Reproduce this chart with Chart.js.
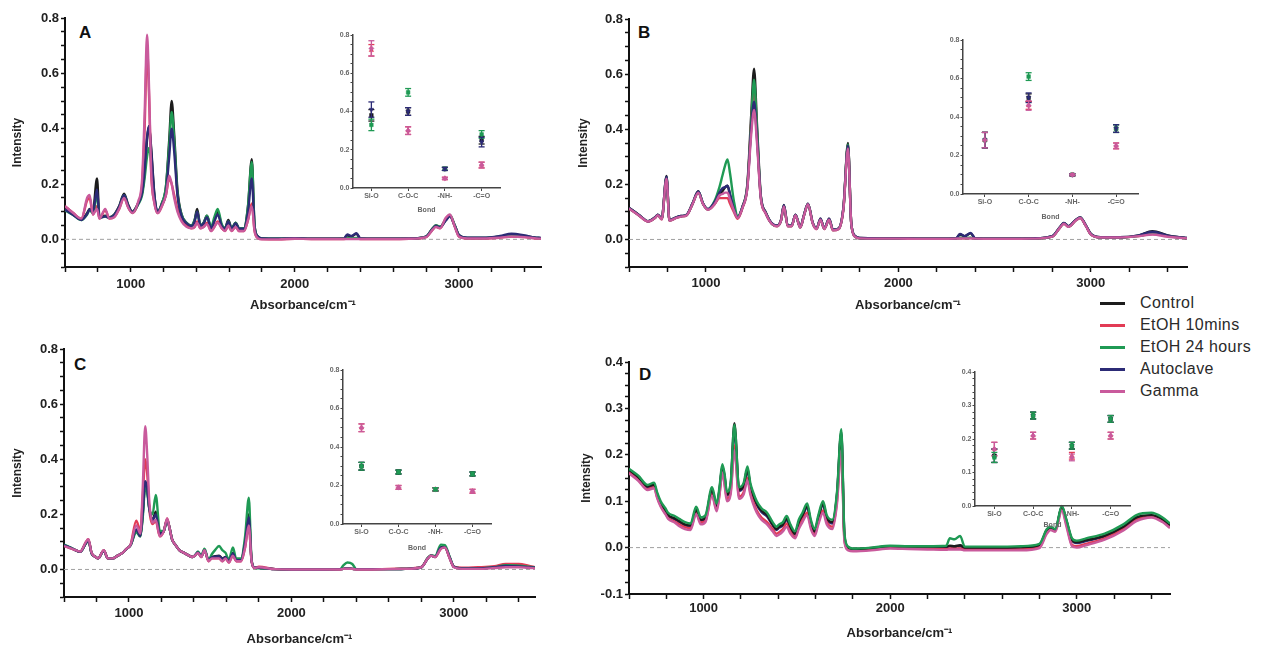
<!DOCTYPE html>
<html><head><meta charset="utf-8">
<script src="https://cdn.jsdelivr.net/npm/chart.js@4.4.0/dist/chart.umd.min.js"></script>
<style>
html,body{margin:0;padding:0;background:#fff;width:1261px;height:647px;overflow:hidden;font-family:"Liberation Sans",Arial,sans-serif;}
canvas{position:absolute;}
.letter{position:absolute;font-weight:bold;font-size:17px;line-height:17px;color:#111;}
#legend{position:absolute;left:1100px;top:292px;font-size:16px;color:#2a2a2a;letter-spacing:0.4px;}
.row{height:22px;line-height:22px;white-space:nowrap;}
.sw{display:inline-block;width:25px;height:3px;vertical-align:middle;margin-right:15px;}
</style></head><body>
<div class="letter" style="left:79px;top:24px">A</div>
<div class="letter" style="left:638px;top:24px">B</div>
<div class="letter" style="left:74px;top:356px">C</div>
<div class="letter" style="left:639px;top:366px">D</div>
<div id="legend"></div>
<script>
const FONT = '"Liberation Sans", Arial, sans-serif';
const seriesNames = ['Control','EtOH 10mins','EtOH 24 hours','Autoclave','Gamma'];
const seriesColors = ['#1c1c1c','#e23b55','#1f9a54','#2c2b76','#c95a9c'];
const markerStyles = ['rect','triangle','rect','triangle','rectRot'];
const markerRotation = [0,0,0,180,0];
// drawing order per panel (lower = drawn on top)
const orderDefault = [5,4,3,2,1];
const orderGreenTop = [3,4,1,5,2];

const xRange = [600, 3500];
const zeroLine = [0, 0];
const xTicks = [600,800,1000,1200,1400,1600,1800,2000,2200,2400,2600,2800,3000,3200,3400];
const xTickLabels = [1000,2000,3000];
const yTicks8 = [-0.1,-0.05,0,0.05,0.1,0.15,0.2,0.25,0.3,0.35,0.4,0.45,0.5,0.55,0.6,0.65,0.7,0.75,0.8];
const yLabels8 = [0,0.2,0.4,0.6,0.8];
const yTicks4 = [-0.1,-0.075,-0.05,-0.025,0,0.025,0.05,0.075,0.1,0.125,0.15,0.175,0.2,0.225,0.25,0.275,0.3,0.325,0.35,0.375,0.4];
const yLabels4 = [-0.1,0,0.1,0.2,0.3,0.4];

const bondLabels = ['Si-O','C-O-C','-NH-','-C=O'];
const bondTicks = [0,1,2,3];
const insetTicks8 = [0,0.05,0.1,0.15,0.2,0.25,0.3,0.35,0.4,0.45,0.5,0.55,0.6,0.65,0.7,0.75,0.8];
const insetLabels8 = [0,0.2,0.4,0.6,0.8];
const insetTicks4 = [0,0.02,0.04,0.06,0.08,0.1,0.12,0.14,0.16,0.18,0.2,0.22,0.24,0.26,0.28,0.3,0.32,0.34,0.36,0.38,0.4];
const insetLabels4 = [0,0.1,0.2,0.3,0.4];

const wavenumbers = [
600,650,700,735,750,770,795,810,845,870,
900,930,960,985,1010,1045,1070,1085,1100,1112,
1125,1145,1165,1190,1215,1235,1250,1265,1285,1310,
1340,1370,1390,1405,1425,1445,1465,1490,1510,1530,
1555,1575,1595,1615,1640,1660,1690,1715,1738,1755,
1775,1800,1900,2000,2100,2200,2300,2320,2345,2375,
2400,2500,2600,2700,2800,2840,2860,2885,2920,2945,
2975,3000,3050,3150,3250,3320,3400,3460,3500];

// ---------- Panel A spectra ----------
const A_Control = [
0.110,0.090,0.072,0.095,0.110,0.100,0.220,0.080,0.085,0.080,
0.090,0.120,0.165,0.125,0.100,0.130,0.170,0.240,0.360,0.410,
0.330,0.160,0.100,0.130,0.190,0.360,0.500,0.380,0.180,0.090,
0.060,0.050,0.070,0.110,0.050,0.060,0.085,0.040,0.070,0.100,
0.050,0.040,0.070,0.040,0.060,0.040,0.040,0.120,0.290,0.050,
0.010,0.003,0.002,0.004,0.002,0.002,0.003,0.015,0.010,0.020,
0.003,0.002,0.002,0.003,0.010,0.040,0.050,0.045,0.070,0.085,
0.050,0.015,0.005,0.005,0.010,0.018,0.012,0.006,0.004];
const A_EtOH10 = [
0.120,0.095,0.075,0.140,0.150,0.090,0.120,0.075,0.105,0.075,
0.080,0.110,0.150,0.115,0.095,0.130,0.200,0.400,0.690,0.520,
0.240,0.130,0.095,0.120,0.160,0.220,0.200,0.160,0.110,0.070,
0.050,0.040,0.045,0.065,0.040,0.045,0.060,0.030,0.045,0.065,
0.040,0.030,0.050,0.030,0.045,0.030,0.030,0.070,0.130,0.030,
0.005,0.001,0.000,0.002,0.001,0.001,0.001,0.002,0.002,0.002,
0.001,0.001,0.001,0.002,0.008,0.035,0.045,0.040,0.075,0.085,
0.045,0.010,0.003,0.003,0.006,0.010,0.008,0.004,0.002];
const A_EtOH24 = [
0.105,0.088,0.070,0.090,0.105,0.095,0.160,0.078,0.082,0.078,
0.088,0.115,0.160,0.120,0.098,0.125,0.160,0.220,0.300,0.330,
0.280,0.150,0.100,0.130,0.190,0.340,0.460,0.360,0.170,0.090,
0.060,0.050,0.070,0.100,0.050,0.060,0.085,0.045,0.080,0.110,
0.055,0.040,0.065,0.040,0.060,0.040,0.040,0.120,0.280,0.050,
0.010,0.003,0.002,0.004,0.002,0.002,0.003,0.005,0.004,0.005,
0.003,0.002,0.002,0.003,0.010,0.040,0.050,0.045,0.072,0.088,
0.050,0.015,0.005,0.005,0.010,0.015,0.010,0.006,0.004];
const A_Autoclave = [
0.108,0.088,0.070,0.092,0.108,0.098,0.180,0.078,0.083,0.078,
0.088,0.118,0.160,0.122,0.098,0.128,0.170,0.250,0.370,0.410,
0.320,0.155,0.100,0.125,0.170,0.300,0.400,0.320,0.160,0.085,
0.058,0.048,0.065,0.100,0.048,0.058,0.080,0.040,0.065,0.090,
0.048,0.038,0.065,0.038,0.058,0.038,0.038,0.100,0.220,0.045,
0.010,0.003,0.002,0.004,0.002,0.002,0.003,0.018,0.012,0.022,
0.003,0.002,0.002,0.003,0.010,0.038,0.048,0.043,0.068,0.083,
0.048,0.015,0.006,0.006,0.012,0.020,0.014,0.007,0.005];
const A_Gamma = [
0.120,0.095,0.075,0.150,0.160,0.090,0.110,0.075,0.110,0.075,
0.080,0.110,0.150,0.115,0.095,0.135,0.220,0.450,0.740,0.550,
0.250,0.130,0.095,0.120,0.160,0.230,0.200,0.150,0.100,0.065,
0.045,0.040,0.045,0.060,0.040,0.045,0.055,0.030,0.045,0.060,
0.040,0.030,0.050,0.030,0.045,0.030,0.030,0.070,0.120,0.030,
0.004,0.000,0.000,0.002,0.001,0.001,0.001,0.001,0.001,0.001,
0.001,0.001,0.001,0.002,0.008,0.035,0.045,0.040,0.078,0.090,
0.045,0.010,0.003,0.003,0.006,0.010,0.008,0.004,0.002];

// ---------- Panel B spectra ----------
const B_Control = [
0.115,0.090,0.066,0.080,0.090,0.075,0.230,0.070,0.080,0.085,
0.090,0.130,0.175,0.130,0.110,0.130,0.160,0.175,0.190,0.195,
0.160,0.110,0.080,0.120,0.200,0.450,0.620,0.420,0.160,0.100,
0.060,0.050,0.070,0.125,0.050,0.050,0.090,0.045,0.090,0.130,
0.060,0.040,0.075,0.040,0.075,0.035,0.040,0.120,0.350,0.060,
0.012,0.005,0.004,0.004,0.003,0.003,0.004,0.018,0.012,0.022,
0.004,0.003,0.003,0.004,0.012,0.045,0.060,0.048,0.070,0.080,
0.050,0.020,0.008,0.008,0.015,0.030,0.015,0.008,0.005];
const B_EtOH10 = [
0.112,0.088,0.065,0.078,0.088,0.073,0.220,0.068,0.078,0.083,
0.088,0.128,0.170,0.128,0.108,0.128,0.150,0.150,0.150,0.150,
0.130,0.100,0.075,0.115,0.190,0.420,0.550,0.380,0.150,0.095,
0.058,0.048,0.068,0.120,0.048,0.048,0.088,0.043,0.088,0.128,
0.058,0.038,0.072,0.038,0.072,0.033,0.038,0.115,0.340,0.058,
0.010,0.004,0.003,0.003,0.002,0.002,0.003,0.005,0.004,0.005,
0.003,0.002,0.002,0.003,0.010,0.043,0.057,0.046,0.068,0.078,
0.048,0.018,0.007,0.007,0.012,0.020,0.012,0.007,0.004];
const B_EtOH24 = [
0.113,0.089,0.066,0.079,0.089,0.074,0.225,0.069,0.079,0.084,
0.089,0.129,0.172,0.129,0.109,0.140,0.190,0.230,0.270,0.290,
0.240,0.140,0.085,0.118,0.195,0.420,0.580,0.400,0.155,0.098,
0.059,0.049,0.069,0.122,0.049,0.049,0.089,0.044,0.089,0.129,
0.059,0.039,0.073,0.039,0.073,0.034,0.039,0.118,0.345,0.059,
0.011,0.004,0.003,0.003,0.002,0.002,0.003,0.006,0.005,0.006,
0.003,0.002,0.002,0.003,0.011,0.044,0.058,0.047,0.069,0.079,
0.049,0.019,0.007,0.007,0.013,0.022,0.012,0.007,0.004];
const B_Autoclave = [
0.114,0.090,0.066,0.080,0.090,0.075,0.228,0.070,0.080,0.085,
0.090,0.130,0.174,0.130,0.110,0.135,0.170,0.185,0.190,0.195,
0.165,0.110,0.080,0.118,0.190,0.400,0.500,0.370,0.155,0.098,
0.060,0.050,0.070,0.124,0.050,0.050,0.090,0.045,0.090,0.130,
0.060,0.040,0.075,0.040,0.075,0.035,0.040,0.120,0.340,0.060,
0.012,0.005,0.004,0.004,0.003,0.003,0.004,0.020,0.012,0.024,
0.004,0.003,0.003,0.004,0.012,0.045,0.060,0.048,0.070,0.080,
0.050,0.020,0.008,0.008,0.015,0.028,0.014,0.008,0.005];
const B_Gamma = [
0.112,0.088,0.065,0.078,0.088,0.073,0.220,0.068,0.078,0.083,
0.088,0.128,0.170,0.128,0.108,0.128,0.160,0.165,0.170,0.170,
0.145,0.105,0.078,0.115,0.185,0.380,0.470,0.350,0.150,0.095,
0.058,0.048,0.068,0.120,0.048,0.048,0.088,0.043,0.088,0.128,
0.058,0.038,0.072,0.038,0.072,0.033,0.038,0.115,0.330,0.058,
0.010,0.004,0.003,0.003,0.002,0.002,0.003,0.004,0.004,0.004,
0.003,0.002,0.002,0.003,0.010,0.043,0.057,0.046,0.068,0.078,
0.048,0.018,0.007,0.007,0.012,0.018,0.010,0.006,0.004];

// ---------- Panel C spectra ----------
const C_Control = [
0.088,0.076,0.064,0.095,0.105,0.058,0.045,0.040,0.068,0.040,
0.040,0.050,0.060,0.075,0.088,0.140,0.120,0.200,0.310,0.290,
0.225,0.180,0.210,0.130,0.140,0.180,0.150,0.110,0.090,0.070,
0.060,0.050,0.045,0.050,0.062,0.046,0.070,0.033,0.045,0.048,
0.050,0.040,0.045,0.030,0.060,0.035,0.035,0.100,0.200,0.032,
0.006,0.006,0.001,0.000,0.000,0.000,0.001,0.002,0.003,0.002,
0.001,0.001,0.001,0.002,0.008,0.041,0.051,0.046,0.080,0.082,
0.043,0.010,0.004,0.004,0.008,0.014,0.012,0.008,0.006];
const C_EtOH10 = [
0.086,0.075,0.065,0.100,0.110,0.060,0.045,0.040,0.070,0.040,
0.040,0.050,0.060,0.075,0.090,0.177,0.140,0.260,0.400,0.350,
0.220,0.165,0.175,0.120,0.140,0.185,0.150,0.110,0.090,0.070,
0.060,0.050,0.045,0.050,0.060,0.045,0.070,0.030,0.040,0.040,
0.040,0.030,0.040,0.025,0.050,0.030,0.030,0.080,0.160,0.030,
0.005,0.010,0.001,0.000,0.000,0.000,0.000,0.002,0.002,0.002,
0.000,0.000,0.002,0.003,0.009,0.040,0.050,0.045,0.075,0.080,
0.040,0.010,0.006,0.008,0.012,0.020,0.020,0.014,0.008];
const C_EtOH24 = [
0.090,0.077,0.064,0.095,0.105,0.058,0.045,0.040,0.068,0.040,
0.040,0.050,0.060,0.075,0.088,0.135,0.120,0.190,0.300,0.280,
0.220,0.200,0.270,0.140,0.140,0.180,0.150,0.110,0.090,0.070,
0.060,0.050,0.045,0.050,0.065,0.050,0.075,0.035,0.055,0.070,
0.085,0.070,0.060,0.035,0.080,0.040,0.040,0.120,0.260,0.035,
0.006,0.004,0.001,0.000,0.000,0.000,0.001,0.015,0.025,0.020,
0.001,0.001,0.001,0.002,0.008,0.042,0.052,0.048,0.090,0.088,
0.045,0.010,0.004,0.004,0.008,0.015,0.014,0.010,0.007];
const C_Autoclave = [
0.088,0.076,0.064,0.096,0.106,0.059,0.045,0.040,0.068,0.040,
0.040,0.050,0.060,0.075,0.088,0.145,0.122,0.210,0.320,0.295,
0.222,0.178,0.200,0.128,0.140,0.180,0.150,0.110,0.090,0.070,
0.060,0.050,0.045,0.050,0.062,0.046,0.070,0.033,0.044,0.046,
0.048,0.038,0.044,0.030,0.058,0.034,0.034,0.095,0.190,0.031,
0.006,0.006,0.001,0.000,0.000,0.000,0.001,0.002,0.003,0.002,
0.001,0.001,0.001,0.002,0.008,0.040,0.050,0.045,0.079,0.081,
0.042,0.010,0.004,0.004,0.008,0.013,0.011,0.008,0.006];
const C_Gamma = [
0.085,0.075,0.065,0.100,0.110,0.060,0.045,0.040,0.070,0.040,
0.040,0.050,0.060,0.075,0.090,0.160,0.130,0.300,0.520,0.420,
0.250,0.170,0.180,0.120,0.140,0.185,0.150,0.110,0.090,0.070,
0.060,0.050,0.045,0.050,0.060,0.045,0.070,0.030,0.040,0.040,
0.040,0.030,0.040,0.025,0.050,0.030,0.030,0.080,0.160,0.030,
0.005,0.008,0.001,0.000,0.000,0.000,0.000,0.002,0.002,0.002,
0.000,0.000,0.001,0.002,0.008,0.040,0.050,0.045,0.075,0.080,
0.040,0.008,0.002,0.002,0.005,0.008,0.008,0.006,0.004];

// ---------- Panel D spectra ----------
const D_Control = [
0.168,0.152,0.132,0.136,0.116,0.096,0.080,0.070,0.063,0.057,
0.050,0.048,0.082,0.060,0.065,0.125,0.090,0.125,0.175,0.155,
0.115,0.135,0.268,0.125,0.135,0.170,0.135,0.115,0.095,0.080,
0.070,0.050,0.040,0.045,0.050,0.063,0.045,0.030,0.055,0.070,
0.090,0.055,0.035,0.065,0.095,0.065,0.055,0.115,0.250,0.025,
0.000,-0.003,-0.001,0.003,0.002,0.002,0.002,0.004,0.003,0.005,
0.000,0.000,0.000,0.001,0.006,0.038,0.043,0.038,0.088,0.058,
0.017,0.012,0.016,0.026,0.045,0.065,0.070,0.061,0.048];
const D_EtOH10 = [
0.162,0.146,0.126,0.130,0.110,0.090,0.074,0.064,0.056,0.050,
0.044,0.042,0.075,0.054,0.058,0.115,0.082,0.115,0.165,0.140,
0.105,0.120,0.220,0.110,0.120,0.150,0.120,0.100,0.080,0.065,
0.055,0.040,0.030,0.033,0.040,0.052,0.035,0.022,0.045,0.060,
0.075,0.045,0.028,0.055,0.080,0.055,0.045,0.100,0.220,0.015,
-0.004,-0.006,-0.004,0.000,-0.001,-0.002,-0.003,-0.002,-0.002,-0.002,
-0.004,-0.004,-0.004,-0.004,0.001,0.033,0.040,0.036,0.083,0.050,
0.006,0.003,0.008,0.020,0.040,0.060,0.067,0.057,0.045];
const D_EtOH24 = [
0.170,0.155,0.135,0.140,0.120,0.100,0.085,0.075,0.068,0.062,
0.055,0.052,0.088,0.065,0.070,0.130,0.095,0.130,0.180,0.160,
0.120,0.140,0.265,0.130,0.140,0.175,0.140,0.120,0.100,0.085,
0.075,0.055,0.045,0.050,0.055,0.068,0.050,0.035,0.060,0.075,
0.095,0.060,0.040,0.070,0.100,0.070,0.060,0.120,0.255,0.030,
0.002,-0.002,0.000,0.004,0.003,0.003,0.004,0.020,0.018,0.025,
0.002,0.002,0.002,0.003,0.008,0.040,0.045,0.040,0.090,0.060,
0.020,0.015,0.020,0.030,0.050,0.070,0.075,0.065,0.052];
const D_Autoclave = [
0.166,0.150,0.130,0.134,0.114,0.094,0.078,0.068,0.061,0.055,
0.048,0.046,0.080,0.058,0.063,0.122,0.088,0.122,0.172,0.152,
0.112,0.132,0.255,0.122,0.132,0.166,0.132,0.112,0.092,0.077,
0.067,0.048,0.038,0.043,0.048,0.060,0.043,0.028,0.052,0.067,
0.087,0.052,0.033,0.062,0.092,0.062,0.052,0.112,0.245,0.022,
-0.001,-0.004,-0.002,0.002,0.001,0.001,0.001,0.003,0.002,0.004,
-0.001,-0.001,-0.001,0.000,0.005,0.037,0.042,0.037,0.087,0.056,
0.015,0.010,0.014,0.024,0.043,0.063,0.069,0.060,0.047];
const D_Gamma = [
0.160,0.144,0.124,0.128,0.108,0.088,0.072,0.062,0.054,0.046,
0.040,0.038,0.072,0.050,0.055,0.112,0.078,0.112,0.162,0.135,
0.100,0.115,0.210,0.105,0.115,0.145,0.115,0.095,0.075,0.060,
0.050,0.035,0.025,0.028,0.035,0.045,0.030,0.020,0.040,0.055,
0.070,0.040,0.025,0.050,0.075,0.050,0.040,0.095,0.210,0.012,
-0.006,-0.008,-0.006,-0.002,-0.003,-0.004,-0.005,-0.004,-0.004,-0.004,
-0.006,-0.006,-0.006,-0.006,-0.001,0.030,0.038,0.034,0.080,0.045,
0.003,0.000,0.005,0.017,0.037,0.057,0.065,0.055,0.042];

// ---------- Inset (bond) means and errors ----------
const bondA_Control = [0.38,0.40,0.10,0.25];   const errA_Control = [0.03,0.02,0.008,0.02];
const bondA_EtOH10 = [0.72,0.30,0.05,0.12];    const errA_EtOH10 = [0.03,0.02,0.006,0.015];
const bondA_EtOH24 = [0.33,0.50,0.10,0.28];    const errA_EtOH24 = [0.03,0.02,0.008,0.02];
const bondA_Autoclave = [0.41,0.40,0.10,0.24]; const errA_Autoclave = [0.04,0.02,0.008,0.025];
const bondA_Gamma = [0.73,0.30,0.05,0.12];     const errA_Gamma = [0.04,0.02,0.006,0.015];

const bondB_Control = [0.28,0.50,0.10,0.34];   const errB_Control = [0.04,0.02,0.005,0.02];
const bondB_EtOH10 = [0.28,0.46,0.10,0.25];    const errB_EtOH10 = [0.04,0.02,0.005,0.015];
const bondB_EtOH24 = [0.28,0.61,0.10,0.34];    const errB_EtOH24 = [0.04,0.02,0.005,0.02];
const bondB_Autoclave = [0.28,0.50,0.10,0.34]; const errB_Autoclave = [0.04,0.025,0.005,0.02];
const bondB_Gamma = [0.28,0.46,0.10,0.25];     const errB_Gamma = [0.04,0.025,0.005,0.015];

const bondC_Control = [0.30,0.27,0.18,0.26];   const errC_Control = [0.02,0.01,0.008,0.01];
const bondC_EtOH10 = [0.50,0.19,0.18,0.17];    const errC_EtOH10 = [0.02,0.01,0.008,0.01];
const bondC_EtOH24 = [0.30,0.27,0.18,0.26];    const errC_EtOH24 = [0.02,0.01,0.008,0.01];
const bondC_Autoclave = [0.30,0.27,0.18,0.26]; const errC_Autoclave = [0.02,0.01,0.008,0.01];
const bondC_Gamma = [0.50,0.19,0.18,0.17];     const errC_Gamma = [0.02,0.01,0.008,0.01];

const bondD_Control = [0.15,0.27,0.18,0.26];   const errD_Control = [0.02,0.01,0.01,0.01];
const bondD_EtOH10 = [0.17,0.21,0.15,0.21];    const errD_EtOH10 = [0.02,0.01,0.01,0.01];
const bondD_EtOH24 = [0.145,0.27,0.18,0.26];   const errD_EtOH24 = [0.015,0.01,0.01,0.01];
const bondD_Autoclave = [0.15,0.27,0.18,0.26]; const errD_Autoclave = [0.02,0.01,0.01,0.01];
const bondD_Gamma = [0.17,0.21,0.145,0.21];    const errD_Gamma = [0.02,0.01,0.01,0.01];

// ---------- helpers ----------
function makeCanvas(p){
  const c = document.createElement('canvas');
  c.width = p.w; c.height = p.h;
  c.style.left = p.left + 'px'; c.style.top = p.top + 'px';
  c.style.width = p.w + 'px'; c.style.height = p.h + 'px';
  document.body.appendChild(c);
  return c;
}
const near = (arr, v) => arr.some(a => Math.abs(a - v) < 1e-9);

function spectraChart(p, arrs, ord, yMin, yMax, yT, yL){
  const ds = arrs.map((vals, i) => ({
    label: seriesNames[i],
    data: vals.map((v, j) => ({x: wavenumbers[j], y: v})),
    borderColor: seriesColors[i], borderWidth: 2.4, pointRadius: 0,
    cubicInterpolationMode: 'monotone', fill: false, order: ord[i]
  }));
  ds.push({label: 'zero', data: xRange.map((x, j) => ({x: x, y: zeroLine[j]})),
    borderColor: '#a0a0a0', borderWidth: 1, borderDash: [4,3], pointRadius: 0, order: 10});
  new Chart(makeCanvas(p), {
    type: 'line',
    data: {datasets: ds},
    options: {
      responsive: false, animation: false, devicePixelRatio: 1,
      layout: {padding: {left: 0, right: p.padR, top: p.padT, bottom: 0}},
      plugins: {legend: {display: false}, tooltip: {enabled: false}},
      scales: {
        x: {
          type: 'linear', min: xRange[0], max: xRange[1],
          afterBuildTicks: s => { s.ticks = xTicks.map(v => ({value: v})); },
          afterFit: s => { s.height = p.xh; },
          ticks: {autoSkip: false, maxRotation: 0, padding: p.xtp, color: '#222',
            font: {family: FONT, size: 13, weight: 'bold'},
            callback: v => xTickLabels.includes(v) ? String(v) : ''},
          grid: {drawOnChartArea: false, tickLength: 5, tickColor: '#111', tickWidth: 1.5},
          border: {color: '#111', width: 2},
          title: {display: true, text: 'Absorbance/cm\u207B\u00B9', color: '#222',
            font: {family: FONT, size: 13, weight: 'bold'}, padding: {top: 0, bottom: p.xtb}}
        },
        y: {
          type: 'linear', min: yMin, max: yMax,
          afterBuildTicks: s => { s.ticks = yT.map(v => ({value: v})); },
          afterFit: s => { s.width = p.yw; },
          ticks: {autoSkip: false, padding: 2, color: '#222',
            font: {family: FONT, size: 13, weight: 'bold'},
            callback: v => near(yL, v) ? v.toFixed(1) : ''},
          grid: {drawOnChartArea: false, tickLength: 4, tickColor: '#111', tickWidth: 1.5},
          border: {color: '#111', width: 2},
          title: {display: true, text: 'Intensity', color: '#222',
            font: {family: FONT, size: 12, weight: 'bold'}, padding: {top: p.ytp, bottom: 0}}
        }
      }
    }
  });
}

function insetChart(p, vals, errs, ord, yMax, yT, yL){
  const ds = [];
  vals.forEach((v, i) => {
    const errData = [];
    v.forEach((m, k) => {
      errData.push({x: bondTicks[k], y: m - errs[i][k]});
      errData.push({x: bondTicks[k], y: m + errs[i][k]});
      errData.push({x: bondTicks[k], y: null});
    });
    ds.push({label: seriesNames[i] + ' err', data: errData, borderColor: seriesColors[i],
      borderWidth: 1.3, pointStyle: 'line', pointRadius: 3, pointBorderWidth: 1.3,
      pointBorderColor: seriesColors[i], spanGaps: false, order: ord[i]});
    ds.push({label: seriesNames[i], data: v.map((m, k) => ({x: bondTicks[k], y: m})),
      showLine: false, pointStyle: markerStyles[i], pointRotation: markerRotation[i],
      pointRadius: 2.6, pointBackgroundColor: seriesColors[i], pointBorderColor: seriesColors[i],
      pointBorderWidth: 0.5, order: ord[i]});
  });
  new Chart(makeCanvas(p), {
    type: 'line',
    data: {datasets: ds},
    options: {
      responsive: false, animation: false, devicePixelRatio: 1,
      layout: {padding: {left: 0, right: p.padR, top: p.padT, bottom: 0}},
      plugins: {legend: {display: false}, tooltip: {enabled: false}},
      scales: {
        x: {
          type: 'linear', min: -0.5, max: 3.5,
          afterBuildTicks: s => { s.ticks = bondTicks.map(v => ({value: v})); },
          afterFit: s => { s.height = p.xh; },
          ticks: {autoSkip: false, maxRotation: 0, padding: 1, color: '#666',
            font: {family: FONT, size: 7, weight: 'bold'},
            callback: v => bondLabels[Math.round(v)]},
          grid: {drawOnChartArea: false, tickLength: 3, tickColor: '#444', tickWidth: 1},
          border: {color: '#444', width: 1.5},
          title: {display: true, text: 'Bond', color: '#666',
            font: {family: FONT, size: 7, weight: 'bold'}, padding: {top: 0, bottom: p.xtb}}
        },
        y: {
          type: 'linear', min: 0, max: yMax,
          afterBuildTicks: s => { s.ticks = yT.map(v => ({value: v})); },
          afterFit: s => { s.width = p.yw; },
          ticks: {autoSkip: false, padding: 1, color: '#666',
            font: {family: FONT, size: 7, weight: 'bold'},
            callback: v => near(yL, v) ? v.toFixed(1) : ''},
          grid: {drawOnChartArea: false, tickLength: 2.5, tickColor: '#444', tickWidth: 1},
          border: {color: '#444', width: 1.5}
        }
      }
    }
  });
}

// ---------- main panels ----------
spectraChart({left:0, top:0, w:560, h:318, yw:65, padR:19, padT:18, xh:51, xtp:5, xtb:5, ytp:10},
  [A_Control, A_EtOH10, A_EtOH24, A_Autoclave, A_Gamma], orderDefault, -0.1, 0.8, yTicks8, yLabels8);
spectraChart({left:570, top:0, w:691, h:318, yw:59, padR:74, padT:19, xh:51, xtp:4, xtb:5, ytp:6},
  [B_Control, B_EtOH10, B_EtOH24, B_Autoclave, B_Gamma], orderDefault, -0.1, 0.8, yTicks8, yLabels8);
spectraChart({left:0, top:320, w:560, h:327, yw:64, padR:25, padT:29, xh:50, xtp:4, xtb:0, ytp:10},
  [C_Control, C_EtOH10, C_EtOH24, C_Autoclave, C_Gamma], orderDefault, -0.1, 0.8, yTicks8, yLabels8);
spectraChart({left:570, top:320, w:691, h:327, yw:59, padR:91, padT:42, xh:53, xtp:2, xtb:6, ytp:9},
  [D_Control, D_EtOH10, D_EtOH24, D_Autoclave, D_Gamma], orderGreenTop, -0.1, 0.4, yTicks4, yLabels4);

// ---------- insets ----------
insetChart({left:320, top:25, w:200, h:195, yw:33, padR:20, padT:10, xh:32, xtb:6},
  [bondA_Control, bondA_EtOH10, bondA_EtOH24, bondA_Autoclave, bondA_Gamma],
  [errA_Control, errA_EtOH10, errA_EtOH24, errA_Autoclave, errA_Gamma], orderDefault, 0.8, insetTicks8, insetLabels8);
insetChart({left:930, top:28, w:230, h:200, yw:33, padR:22, padT:12, xh:34, xtb:7},
  [bondB_Control, bondB_EtOH10, bondB_EtOH24, bondB_Autoclave, bondB_Gamma],
  [errB_Control, errB_EtOH10, errB_EtOH24, errB_Autoclave, errB_Gamma], orderDefault, 0.8, insetTicks8, insetLabels8);
insetChart({left:310, top:358, w:200, h:200, yw:33, padR:19, padT:12, xh:34, xtb:6},
  [bondC_Control, bondC_EtOH10, bondC_EtOH24, bondC_Autoclave, bondC_Gamma],
  [errC_Control, errC_EtOH10, errC_EtOH24, errC_Autoclave, errC_Gamma], orderGreenTop, 0.8, insetTicks8, insetLabels8);
insetChart({left:940, top:360, w:210, h:175, yw:35, padR:20, padT:12, xh:29, xtb:6},
  [bondD_Control, bondD_EtOH10, bondD_EtOH24, bondD_Autoclave, bondD_Gamma],
  [errD_Control, errD_EtOH10, errD_EtOH24, errD_Autoclave, errD_Gamma], orderGreenTop, 0.4, insetTicks4, insetLabels4);

// ---------- legend ----------
const lg = document.getElementById('legend');
seriesNames.forEach((n, i) => {
  const r = document.createElement('div'); r.className = 'row';
  const s = document.createElement('span'); s.className = 'sw'; s.style.background = seriesColors[i];
  r.appendChild(s); r.appendChild(document.createTextNode(n)); lg.appendChild(r);
});
</script>
</body></html>
